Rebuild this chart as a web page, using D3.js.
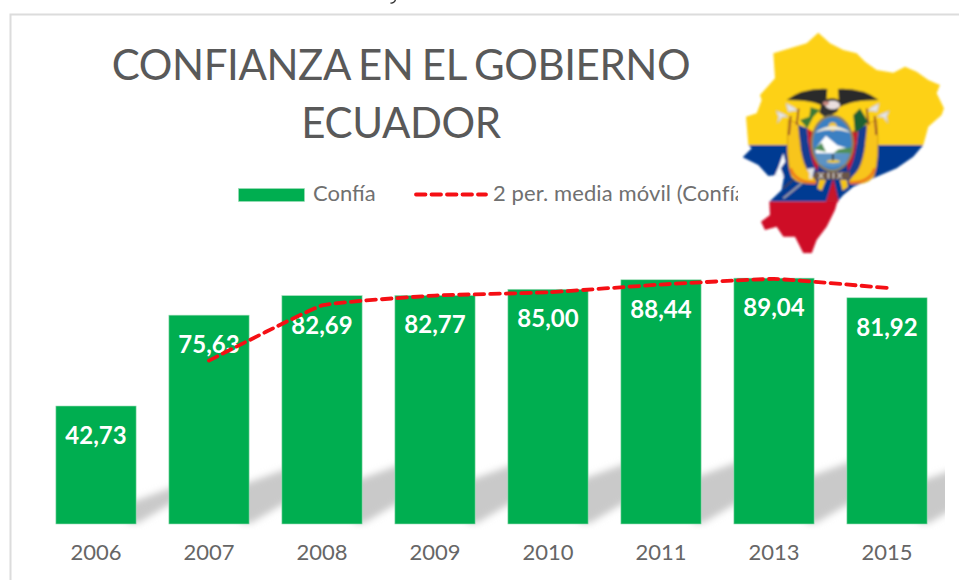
<!DOCTYPE html>
<html><head><meta charset="utf-8">
<script src="https://cdn.jsdelivr.net/npm/d3@7"></script>
<style>html,body{margin:0;padding:0;background:#fff}svg{display:block}text{font-family:Lato,"Open Sans",sans-serif}</style>
</head><body><div id="c"></div>
<script>
const years = ["2006","2007","2008","2009","2010","2011","2013","2015"];
const confia = [42.73,75.63,82.69,82.77,85.00,88.44,89.04,81.92];
const mediaMovil = [59.18,79.16,82.73,83.89,86.72,88.74,85.48];
const mediaYears = ["2007","2008","2009","2010","2011","2013","2015"];
const titleLines = ["CONFIANZA EN EL GOBIERNO","ECUADOR"];
const labelFmt = v => v.toFixed(2).replace(".",",");

const svg = d3.select("#c").append("svg").attr("width",959).attr("height",580);
const defs = svg.append("defs");
const x = d3.scaleBand().domain(years).range([39.5,943.5]).paddingInner(0.29).paddingOuter(0.145);
const y = d3.scaleLinear().domain([0,100]).range([524,247.85]);

// frame and the cut-off stroke above it
svg.append("path").attr("d","M10.5,580V14.5H959").attr("fill","none").attr("stroke","#dcdcdc").attr("stroke-width",2);
svg.append("path").attr("d","M395.5,0Q394,3.5 390.5,3").attr("fill","none").attr("stroke","#333").attr("stroke-width",1.3);

// floor shadow
defs.append("filter").attr("id","blur").attr("x","-30%").attr("y","-30%").attr("width","160%").attr("height","160%")
  .append("feGaussianBlur").attr("stdDeviation",3.5);
defs.append("clipPath").attr("id","shclip").append("rect").attr("x",12).attr("y",440).attr("width",933).attr("height",90);
svg.append("g").attr("clip-path","url(#shclip)").append("g").attr("filter","url(#blur)").selectAll("path").data(confia).join("path")
  .attr("fill","#c9c9c9")
  .attr("d",(v,i)=>{
    const x1=x(years[i])+x.bandwidth(), h=(y(0)-y(v))*0.2, w=44;
    return `M${x1-8},${y(0)-1}L${x1+2},${y(0)-1}L${x1+w},${y(0)-1-w*0.56}L${x1+w},${y(0)-h-w*0.36}L${x1-8},${y(0)-h+3}Z`;
  });

// bars
svg.append("g").selectAll("rect").data(confia).join("rect")
  .attr("x",(d,i)=>x(years[i])).attr("y",d=>y(d)).attr("width",x.bandwidth()).attr("height",d=>y(0)-y(d))
  .attr("fill","#00ae50").attr("stroke","#9fdcb8").attr("stroke-width",.6);

// bar labels
svg.append("g").selectAll("text").data(confia).join("text")
  .attr("x",(d,i)=>x(years[i])+x.bandwidth()/2).attr("y",d=>y(d)+38)
  .attr("text-anchor","middle").attr("fill","#fff").attr("font-size",24).attr("font-weight",700)
  .text(labelFmt);

// axis
const ax = svg.append("g").attr("transform","translate(0,524)").call(d3.axisBottom(x).tickSize(0).tickPadding(20));
ax.select(".domain").remove();
ax.selectAll("text").attr("fill","#666").attr("font-size",22).style("font-family","Lato");

// moving average
svg.append("path").datum(mediaMovil)
  .attr("fill","none").attr("stroke","#f50f14").attr("stroke-width",3.8).attr("stroke-dasharray","9.5 6").attr("stroke-linecap","round")
  .attr("d",d3.line().x((d,i)=>x(mediaYears[i])+x.bandwidth()/2).y(d=>y(d)).curve(d3.curveCardinal.tension(0.7)));

// title
svg.append("g").selectAll("text").data(titleLines).join("text")
  .attr("x",401).attr("y",(d,i)=>80+i*58).attr("text-anchor","middle")
  .attr("fill","#595959").attr("font-size",42).attr("letter-spacing",-0.4).attr("word-spacing",-2).text(d=>d);

// legend
svg.append("rect").attr("x",238.5).attr("y",188.5).attr("width",66).attr("height",13).attr("fill","#00ae50").attr("stroke","#9fdcb8").attr("stroke-width",.6);
svg.append("text").attr("x",313).attr("y",201).attr("fill","#707070").attr("font-size",22).text("Confía");
svg.append("line").attr("x1",416).attr("x2",486).attr("y1",194.5).attr("y2",194.5).attr("stroke","#f50f14").attr("stroke-width",3.8).attr("stroke-dasharray","9.5 6").attr("stroke-linecap","round");
defs.append("clipPath").attr("id","legclip").append("rect").attr("x",400).attr("y",170).attr("width",338).attr("height",50);
svg.append("g").attr("clip-path","url(#legclip)").append("text").attr("x",493).attr("y",201).attr("fill","#707070").attr("font-size",22).attr("letter-spacing",0.1).text("2 per. media móvil (Confía)");

// Ecuador flag map (decorative picture), drawn in zoom-crop units
const outline = [[295,38],[330,70],[370,90],[410,100],[435,125],[470,150],[520,158],[555,140],[590,155],[625,180],[660,195],[650,220],[672,265],[665,285],[625,320],[610,375],[580,410],[530,445],[470,470],[400,500],[370,525],[352,545],[345,570],[335,590],[320,620],[290,660],[275,700],[250,700],[225,650],[190,650],[170,620],[135,630],[123,605],[150,585],[148,545],[185,510],[192,470],[170,465],[145,468],[115,435],[68,412],[95,385],[85,375],[78,290],[110,280],[125,240],[120,225],[165,175],[160,100],[210,85],[260,70]];
defs.append("clipPath").attr("id","mapclip").append("path").attr("d",d3.line()(outline)+"Z");
defs.append("filter").attr("id","soft").attr("x","-5%").attr("y","-5%").attr("width","110%").attr("height","110%").append("feGaussianBlur").attr("stdDeviation",2.4);
const m = svg.append("g").attr("transform","translate(720,20) scale(0.3333)").attr("filter","url(#soft)");
const fl = m.append("g").attr("clip-path","url(#mapclip)");
fl.append("rect").attr("x",0).attr("y",0).attr("width",720).attr("height",375).attr("fill","#fdd116");
fl.append("rect").attr("x",0).attr("y",375).attr("width",720).attr("height",170).attr("fill","#033a92");
fl.append("rect").attr("x",0).attr("y",545).attr("width",720).attr("height",200).attr("fill","#ce1127");
m.append("path").attr("d","M190,400L196,425L182,445L192,470L165,466L176,440Z").attr("fill","#fff");
// draped flags, drawn once and mirrored
function side(g){
  g.append("path").attr("d","M205,300Q196,420 215,470Q240,500 290,485L275,465Q240,440 235,310Z").attr("fill","#f8c51c").attr("stroke","#c68f10").attr("stroke-width",2.5);
  g.append("path").attr("d","M235,315Q245,440 278,468L292,455Q268,420 262,325Z").attr("fill","#163e92");
  g.append("path").attr("d","M262,325Q268,420 292,455L298,400L278,335Z").attr("fill","#c8122c");
  g.append("path").attr("d","M212,445Q225,488 288,488").attr("fill","none").attr("stroke","#ee7a1a").attr("stroke-width",9);
  g.append("path").attr("d","M212,288L207,345").attr("stroke","#8a3b2a").attr("stroke-width",5);
  g.append("path").attr("d","M236,266L230,315").attr("stroke","#8a3b2a").attr("stroke-width",5);
  g.append("path").attr("d","M168,272L192,282L205,290L186,292L172,310L176,290ZM198,250L222,262L232,272L214,274L205,276Z").attr("fill","#e6e6e6").attr("stroke","#aaa").attr("stroke-width",1.5);
  g.append("path").attr("d","M200,240Q250,203 322,207L318,262Q280,240 200,240Z").attr("fill","#2a2a2a");
}
side(m.append("g"));
side(m.append("g").attr("transform","translate(676,0) scale(-1,1)"));
// foliage
m.append("path").attr("d","M240,300L262,325L280,290L300,270L272,262L268,290Z").attr("fill","#3d7a35");
m.append("path").attr("d","M400,285L405,340L425,325L445,305L420,265Z").attr("fill","#1f6030");
// condor body and head
m.append("path").attr("d","M305,245Q340,225 362,245L352,275L318,295L298,278Z").attr("fill","#333");
m.append("ellipse").attr("cx",338).attr("cy",255).attr("rx",22).attr("ry",13).attr("fill","#eadfdf");
m.append("ellipse").attr("cx",318).attr("cy",250).attr("rx",9).attr("ry",6).attr("fill","#cc8a80");
// lower ribbons
m.append("path").attr("d","M340,475L356,545L345,548L318,545Z").attr("fill","#c8122c");
m.append("path").attr("d","M298,478L318,480L305,512L292,505ZM360,480L380,480L384,500L368,512Z").attr("fill","#f5c518");
// oval shield
m.append("ellipse").attr("cx",337).attr("cy",370).attr("rx",65).attr("ry",86).attr("fill","#8f8158");
m.append("ellipse").attr("cx",337).attr("cy",370).attr("rx",58).attr("ry",79).attr("fill","#3a80c2");
m.append("path").attr("d","M286,385L318,347L352,376L392,388L388,402L288,402Z").attr("fill","#fff");
m.append("path").attr("d","M281,388L305,368L318,395ZM355,388L395,382L393,402L340,400Z").attr("fill","#4f8f57");
m.append("path").attr("d","M284,400H390L376,432Q337,452 298,432Z").attr("fill","#5c93c4");
m.append("ellipse").attr("cx",340).attr("cy",424).attr("rx",20).attr("ry",5).attr("fill","#f0cc30");
m.append("rect").attr("x",336).attr("y",402).attr("width",5).attr("height",20).attr("fill","#333");
m.append("circle").attr("cx",338).attr("cy",320).attr("r",13).attr("fill","#f2c62f");
m.append("path").attr("d","M285,338Q338,298 392,338Q338,320 285,338Z").attr("fill","#efe9d6");
// fasces
m.append("rect").attr("x",282).attr("y",456).attr("width",108).attr("height",22).attr("fill","#6b5546");
m.append("path").attr("d","M296,458L310,476M310,458L296,476M325,458V476M340,458V476M352,458L366,476M366,458L352,476").attr("stroke","#eee").attr("stroke-width",3);
m.append("path").attr("d","M260,446L284,444L280,458L276,476L268,476L268,460Z").attr("fill","#e6e6e6");
m.append("path").attr("d","M190,535L245,490").attr("stroke","#aaa").attr("stroke-width",5);
m.append("path").attr("d","M190,505L222,478").attr("stroke","#444").attr("stroke-width",4);
</script></body></html>
